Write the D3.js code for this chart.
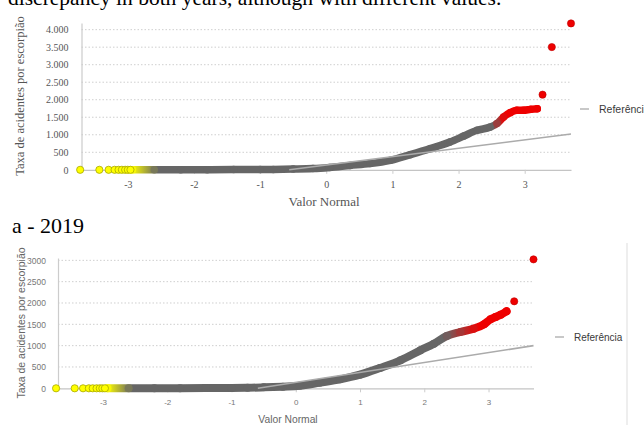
<!DOCTYPE html>
<html>
<head>
<meta charset="utf-8">
<script src="https://cdn.jsdelivr.net/npm/d3@7"></script>
<style>
  body { margin: 0; background: #fff; }
  svg { display: block; }
</style>
</head>
<body>
<div id="chart"></div>
<script>
// ---- data ----
// x ticks (normal quantiles) and y ticks, both charts
const xTicks = [-3, -2, -1, 0, 1, 2, 3];
const xTickLabels = ["-3", "-2", "-1", "0", "1", "2", "3"];

const topYTicks = [0, 500, 1000, 1500, 2000, 2500, 3000, 3500, 4000];
const topYLabels = ["0", "500", "1.000", "1.500", "2.000", "2.500", "3.000", "3.500", "4.000"];
const botYTicks = [0, 500, 1000, 1500, 2000, 2500, 3000];
const botYLabels = ["0", "500", "1000", "1500", "2000", "2500", "3000"];

// top chart (rate by normal value)
const topLowZ = [-3.72, -3.43, -3.29, -3.20, -3.14, -3.09, -3.04, -3.00, -2.96];
const topBodyZ = [-2.93, -2.6, -2.2, -1.8, -1.4, -1.0, -0.8, -0.5, -0.2, 0.05, 0.36, 0.66, 0.97, 1.27, 1.57, 1.87, 2.08, 2.28, 2.48, 2.58, 2.68, 2.78, 2.88, 2.98, 3.09, 3.19];
const topBodyV = [0, 0, 2, 4, 6, 9, 12, 20, 35, 68, 125, 177, 271, 433, 604, 793, 964, 1127, 1221, 1318, 1506, 1631, 1697, 1700, 1725, 1745];
const topHighZ = [3.27, 3.41, 3.70];
const topHighV = [2145, 3503, 4178];
const topRefZ = [-0.56, 3.70];
const topRefV = [0, 1022];

// bottom chart, 2019
const botLowZ = [-3.73, -3.44, -3.31, -3.22, -3.16, -3.10, -3.05, -3.01, -2.97];
const botBodyZ = [-2.93, -2.6, -2.2, -1.8, -1.4, -1.0, -0.75, -0.5, -0.2, 0.06, 0.375, 0.69, 1.0, 1.31, 1.63, 1.94, 2.15, 2.35, 2.56, 2.77, 2.93, 3.03, 3.11, 3.19, 3.28];
const botBodyV = [0, 0, 2, 4, 6, 9, 12, 22, 38, 58, 133, 211, 320, 477, 656, 891, 1047, 1226, 1320, 1399, 1500, 1617, 1672, 1727, 1805];
const botHighZ = [3.40, 3.70];
const botHighV = [2040, 3023];
const botRefZ = [-0.59, 3.70];
const botRefV = [0, 1000];

const svg = d3.select("#chart")
    .append("svg")
    .attr("width", 644)
    .attr("height", 425);

// caption text from the surrounding page
svg.append("text")
    .attr("x", 8)
    .attr("y", 5)
    .style("font-family", "Liberation Serif, serif")
    .style("font-size", "21.5px")
    .attr("fill", "#000")
    .text("discrepancy in both years, although with different values.");

svg.append("text")
    .attr("x", 12)
    .attr("y", 232.5)
    .style("font-family", "Liberation Serif, serif")
    .style("font-size", "22px")
    .attr("fill", "#000")
    .text("a - 2019");

function drawQQ(o) {
    const x = d3.scaleLinear().domain([-3.7, 3.7]).range([o.left, o.right]);
    const y = d3.scaleLinear().domain([0, o.yMax]).range([o.bottom, o.top]);
    const g = svg.append("g");

    // colour by normal value: yellow tail, grey body, red tail
    const col = d3.scaleLinear()
        .domain([-2.95, -2.55, o.redFrom, o.redTo])
        .range(["#ffff00", "#666666", "#666666", "#ee0000"])
        .clamp(true);

    const grad = svg.append("defs").append("linearGradient")
        .attr("id", o.id + "Grad")
        .attr("gradientUnits", "userSpaceOnUse")
        .attr("x1", x(-3.7)).attr("x2", x(3.7))
        .attr("y1", 0).attr("y2", 0);
    [-2.95, -2.55, o.redFrom, o.redTo].forEach(z => {
        grad.append("stop")
            .attr("offset", (x(z) - x(-3.7)) / (x(3.7) - x(-3.7)))
            .attr("stop-color", col(z));
    });

    // dotted grid
    g.selectAll(".grid")
        .data(o.yTicks.filter(d => d > 0))
        .join("line")
        .attr("class", "grid")
        .attr("x1", o.left).attr("x2", o.right)
        .attr("y1", d => y(d)).attr("y2", d => y(d))
        .attr("stroke", "#cfcfcf")
        .attr("stroke-dasharray", "1.5,2");

    // y axis
    const yAxis = g.append("g")
        .attr("transform", `translate(${o.left},0)`)
        .call(d3.axisLeft(y).tickValues(o.yTicks)
            .tickFormat((d, i) => o.yLabels[i])
            .tickSize(0).tickSizeOuter(0).tickPadding(o.yPad));
    yAxis.select(".domain").attr("stroke", "#cccccc").attr("stroke-width", 1.2);
    yAxis.selectAll("text")
        .style("font-family", o.font)
        .style("font-size", o.yTickSize + "px")
        .attr("fill", o.tickColor);

    // x axis sits on zero
    const xAxis = g.append("g")
        .attr("transform", `translate(0,${y(0)})`)
        .call(d3.axisBottom(x).tickValues(xTicks)
            .tickFormat((d, i) => xTickLabels[i])
            .tickSize(4).tickSizeOuter(0).tickPadding(o.xPad));
    xAxis.select(".domain").attr("stroke", "#c4c4c4").attr("stroke-width", 1.2);
    xAxis.selectAll(".tick line").attr("stroke", "#cccccc");
    xAxis.selectAll("text")
        .style("font-family", o.font)
        .style("font-size", o.tickSize + "px")
        .attr("fill", o.tickColor);

    // dense body of points
    const body = o.bodyZ.map((z, i) => [z, o.bodyV[i]]);
    const band = d3.line().x(d => x(d[0])).y(d => y(d[1])).curve(d3.curveMonotoneX);
    g.append("path")
        .datum(body)
        .attr("fill", "none")
        .attr("stroke", `url(#${o.id}Grad)`)
        .attr("stroke-width", o.band)
        .attr("stroke-linecap", "round")
        .attr("stroke-linejoin", "round")
        .attr("d", band);

    g.selectAll(".pt")
        .data(body)
        .join("circle")
        .attr("class", "pt")
        .attr("cx", d => x(d[0]))
        .attr("cy", d => y(d[1]))
        .attr("r", o.band / 2)
        .attr("fill", d => col(d[0]));

    // lowest tail (yellow)
    g.selectAll(".low")
        .data(o.lowZ)
        .join("circle")
        .attr("class", "low")
        .attr("cx", d => x(d))
        .attr("cy", y(0))
        .attr("r", 3.6)
        .attr("fill", "#ffff00")
        .attr("stroke", "#a8a800")
        .attr("stroke-width", 0.8);

    // highest tail (red)
    g.selectAll(".high")
        .data(o.highZ.map((z, i) => [z, o.highV[i]]))
        .join("circle")
        .attr("class", "high")
        .attr("cx", d => x(d[0]))
        .attr("cy", d => y(d[1]))
        .attr("r", 3.6)
        .attr("fill", "#ee0000")
        .attr("stroke", "#c00000")
        .attr("stroke-width", 0.6);

    // reference line
    const line = d3.line().x(d => x(d[0])).y(d => y(d[1]));
    g.append("path")
        .datum(o.refZ.map((z, i) => [z, o.refV[i]]))
        .attr("fill", "none")
        .attr("stroke", "#ababab")
        .attr("stroke-width", 1.6)
        .attr("d", line);

    // axis titles
    g.append("text")
        .attr("transform", `translate(${o.yTitleX},${o.yTitleY}) rotate(-90)`)
        .attr("text-anchor", "middle")
        .attr("dy", "0.35em")
        .style("font-family", o.font)
        .style("font-size", o.titleSize + "px")
        .attr("fill", o.titleColor)
        .text("Taxa de acidentes por escorpião");

    g.append("text")
        .attr("x", o.xTitleX)
        .attr("y", o.xTitleY)
        .attr("text-anchor", "middle")
        .attr("dy", "0.35em")
        .style("font-family", o.font)
        .style("font-size", o.xTitleSize + "px")
        .attr("fill", o.titleColor)
        .text("Valor Normal");

    // legend
    g.append("line")
        .attr("x1", o.legX).attr("x2", o.legX + 9)
        .attr("y1", o.legY).attr("y2", o.legY)
        .attr("stroke", "#aaaaaa")
        .attr("stroke-width", 1.3);
    g.append("text")
        .attr("x", o.legX + 19)
        .attr("y", o.legY)
        .attr("dy", "0.35em")
        .style("font-family", "Liberation Sans, Arial, sans-serif")
        .style("font-size", o.legSize + "px")
        .attr("fill", "#3a3a3a")
        .text("Referência");
}

drawQQ({
    id: "top", left: 81.5, right: 571, top: 23, bottom: 169.8, yMax: 4190,
    yTicks: topYTicks, yLabels: topYLabels,
    lowZ: topLowZ, bodyZ: topBodyZ, bodyV: topBodyV, highZ: topHighZ, highV: topHighV,
    refZ: topRefZ, refV: topRefV, redFrom: 2.5, redTo: 2.7, band: 7.5,
    font: "Liberation Serif, serif", tickSize: 10, yTickSize: 10, tickColor: "#555", yPad: 13, xPad: 7,
    titleSize: 12.5, xTitleSize: 13, titleColor: "#555",
    yTitleX: 20, yTitleY: 96, xTitleX: 324, xTitleY: 201,
    legX: 580, legY: 109, legSize: 10.5
});

drawQQ({
    id: "bot", left: 58, right: 533.5, top: 258, bottom: 388.3, yMax: 3055,
    yTicks: botYTicks, yLabels: botYLabels,
    lowZ: botLowZ, bodyZ: botBodyZ, bodyV: botBodyV, highZ: botHighZ, highV: botHighV,
    refZ: botRefZ, refV: botRefV, redFrom: 2.3, redTo: 2.85, band: 8,
    font: "Liberation Sans, Arial, sans-serif", tickSize: 8, yTickSize: 8.5, tickColor: "#777", yPad: 12, xPad: 7,
    titleSize: 10.5, xTitleSize: 10.3, titleColor: "#666",
    yTitleX: 21, yTitleY: 323, xTitleX: 288, xTitleY: 419,
    legX: 555, legY: 337, legSize: 10
});

// frame line at the right of the 2019 panel
svg.append("line")
    .attr("x1", 627).attr("x2", 627)
    .attr("y1", 243).attr("y2", 425)
    .attr("stroke", "#dddddd");
</script>
</body>
</html>
